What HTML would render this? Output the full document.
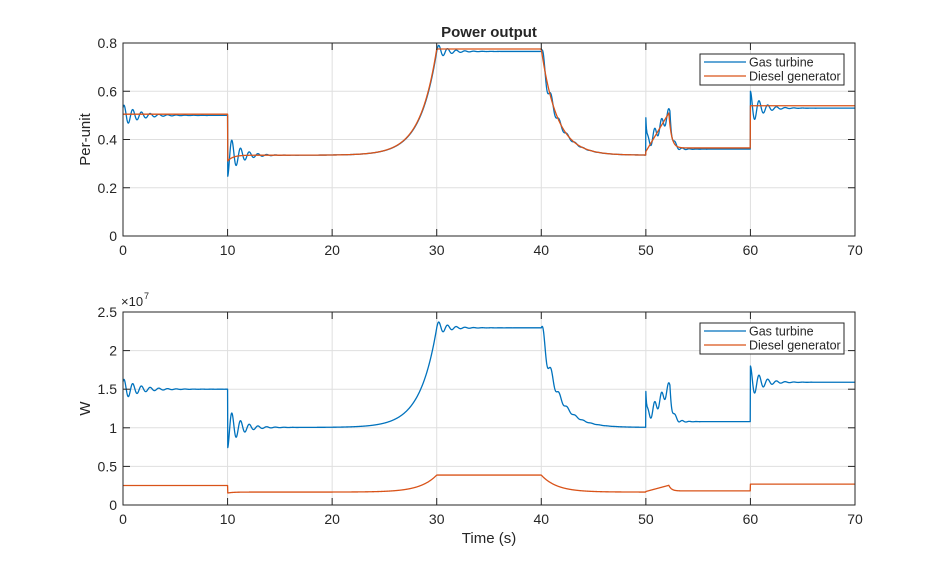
<!DOCTYPE html>
<html><head><meta charset="utf-8"><style>
body{margin:0;background:#fff;width:946px;height:569px;overflow:hidden}
svg text{font-family:"Liberation Sans",sans-serif;fill:#262626}
</style></head><body>
<svg id="s" width="946" height="569" xmlns="http://www.w3.org/2000/svg">
<rect width="946" height="569" fill="#fff"/>
<g id="g"></g>
</svg>
<script>
const NS="http://www.w3.org/2000/svg";
const g=document.getElementById('g');
function el(t,a,txt){const e=document.createElementNS(NS,t);for(const k in a)e.setAttribute(k,a[k]);if(txt!==undefined)e.textContent=txt;g.appendChild(e);return e;}
const X0=123,X1=855;const xs=t=>X0+t*(X1-X0)/70;
const PI2=Math.PI*2;
function gt(t){
 if(t<10)return 0.5+0.045*Math.exp(-t/1.5)*Math.sin(PI2*1.2*t+0.8);
 if(t<30){let v=0.335+0.43*Math.exp((t-30)/1.6);v-=0.09*Math.exp(-(t-10)/1.1)*Math.cos(PI2*1.2*(t-10));return v;}
 if(t<40)return 0.765+0.03*Math.exp(-(t-30)/1.1)*Math.sin(PI2*1.2*(t-30));
 if(t<50){const d=t-40;return 0.335+0.43*Math.exp(-d/1.5)+0.05*Math.exp(-d/1.2)*Math.sin(PI2*1.3*d);}
 if(t<60){const d=t-50;let v;
  if(d<2.3)v=0.37+0.14*(d/2.3);else v=0.36+0.15*Math.exp(-(d-2.3)/0.25);
  v+=0.12*Math.exp(-d/0.08)+0.025*Math.sin(PI2*1.5*d)*Math.exp(-Math.max(0,d-2.3)/0.6);
  return v;}
 const d=t-60;return 0.53+0.07*Math.exp(-d/1)*Math.cos(PI2*1.2*d);
}
function dg(t){
 if(t<10)return 0.505;
 if(t<30)return 0.335+0.44*Math.exp((t-30)/1.6)-0.025*Math.exp(-(t-10)/0.5);
 if(t<40)return 0.775;
 if(t<50){const d=t-40;return 0.335+0.44*Math.exp(-d/1.5);}
 if(t<60){const d=t-50;if(d<2.2)return 0.35+0.16*(d/2.2);return 0.365+0.145*Math.exp(-(d-2.2)/0.25);}
 return 0.54;
}
function path(f,ys,col){let d='';for(let t=0;t<=70.0001;t+=0.02){const x=xs(t),y=ys(f(t));d+=(d?'L':'M')+x.toFixed(2)+' '+y.toFixed(2);}el('path',{d:d,fill:'none',stroke:col,'stroke-width':1.3,'stroke-linejoin':'round'});}
function axes(Y0,Y1,ticks,tl,ymax,ylabel){
 for(let i=0;i<=7;i++){const x=xs(i*10);el('line',{x1:x,x2:x,y1:Y0,y2:Y1,stroke:'#dfdfdf'});}
 ticks.forEach((v,i)=>{const y=Y1-(Y1-Y0)*v/ymax;el('line',{x1:X0,x2:X1,y1:y,y2:y,stroke:'#dfdfdf'});});
}
function frame(Y0,Y1,ticks,tl,ymax,ylabel){
 el('rect',{x:X0,y:Y0,width:X1-X0,height:Y1-Y0,fill:'none',stroke:'#262626','stroke-width':1});
 for(let i=0;i<=7;i++){const x=xs(i*10);el('line',{x1:x,x2:x,y1:Y1,y2:Y1-7,stroke:'#262626'});el('line',{x1:x,x2:x,y1:Y0,y2:Y0+7,stroke:'#262626'});el('text',{x:x,y:Y1+19,'text-anchor':'middle','font-size':14},String(i*10));}
 ticks.forEach((v,i)=>{const y=Y1-(Y1-Y0)*v/ymax;el('line',{x1:X0,x2:X0+7,y1:y,y2:y,stroke:'#262626'});el('line',{x1:X1,x2:X1-7,y1:y,y2:y,stroke:'#262626'});el('text',{x:X0-6,y:y+5,'text-anchor':'end','font-size':14},tl[i]);});
 const cy=(Y0+Y1)/2;el('text',{x:0,y:0,'font-size':15,'text-anchor':'middle',transform:`translate(90 ${cy}) rotate(-90)`},ylabel);
}
function legend(y){
 el('rect',{x:700,y:y,width:144,height:31,fill:'#fff',stroke:'#262626'});
 el('line',{x1:704,x2:746,y1:y+8,y2:y+8,stroke:'#0072BD','stroke-width':1.3});
 el('line',{x1:704,x2:746,y1:y+22,y2:y+22,stroke:'#D95319','stroke-width':1.3});
 el('text',{x:749,y:y+12.5,'font-size':12.5},'Gas turbine');
 el('text',{x:749,y:y+26.5,'font-size':12.5},'Diesel generator');
}
let T0=43,T1=236;
axes(T0,T1,[0,0.2,0.4,0.6,0.8],null,0.8);
path(gt,v=>T1-v/0.8*(T1-T0),'#0072BD');
path(dg,v=>T1-v/0.8*(T1-T0),'#D95319');
frame(T0,T1,[0,0.2,0.4,0.6,0.8],['0','0.2','0.4','0.6','0.8'],0.8,'Per-unit');
legend(54);
el('text',{x:489,y:37,'font-size':15,'font-weight':'bold','text-anchor':'middle'},'Power output');
let B0=312,B1=505;
axes(B0,B1,[0,0.5,1,1.5,2,2.5],null,2.5);
path(t=>gt(t)*3,v=>B1-v/2.5*(B1-B0),'#0072BD');
path(t=>dg(t)*0.5,v=>B1-v/2.5*(B1-B0),'#D95319');
frame(B0,B1,[0,0.5,1,1.5,2,2.5],['0','0.5','1','1.5','2','2.5'],2.5,'W');
legend(323);
el('text',{x:121,y:306,'font-size':13},'\u00d710');
el('text',{x:144,y:299,'font-size':9},'7');
el('text',{x:489,y:543,'font-size':15,'text-anchor':'middle'},'Time (s)');
</script>
</body></html>
